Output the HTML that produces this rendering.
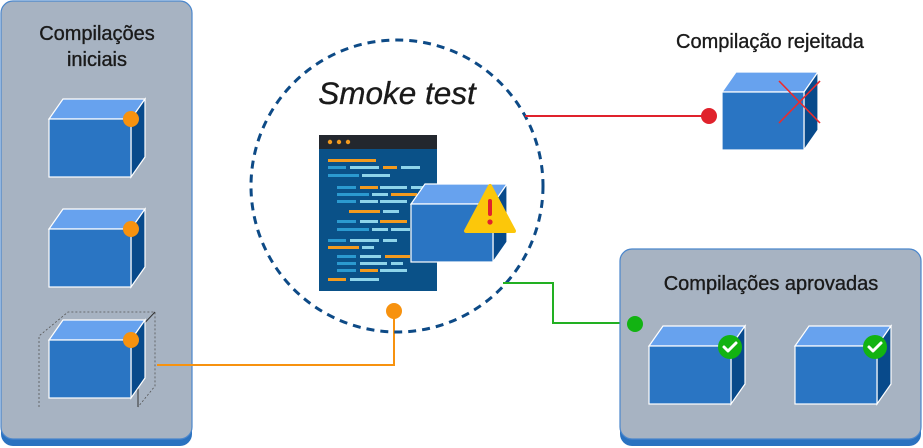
<!DOCTYPE html>
<html><head><meta charset="utf-8"><style>
html,body{margin:0;padding:0;background:#fff;}
svg{display:block;font-family:"Liberation Sans",Roboto,sans-serif;}
.t{fill:#1a1a1a;stroke:#1a1a1a;stroke-width:0.35;}
</style></head><body>
<svg width="923" height="448" viewBox="0 0 923 448" xmlns="http://www.w3.org/2000/svg">
<defs>
<g id="cube">
  <polygon points="0,0 14,-20 96,-20 82,0" fill="#67a2ee" stroke="#fff" stroke-width="1.2"/>
  <polygon points="82,0 96,-20 96,38 82,58" fill="#084a8b" stroke="#fff" stroke-width="1.2"/>
  <rect x="0" y="0" width="82" height="58" fill="#2a75c3" stroke="#fff" stroke-width="1.2"/>
</g>
</defs>
<!-- left panel -->
<rect x="1" y="8" width="191" height="438" rx="12" fill="#2a72c0"/>
<rect x="1" y="1" width="191" height="438" rx="12" fill="#a7b3c2" stroke="#4a86cc" stroke-width="1.2"/>
<text class="t" x="97" y="40" font-size="20" text-anchor="middle">Compilações</text>
<text class="t" x="97" y="66" font-size="20" text-anchor="middle">iniciais</text>
<use href="#cube" x="49" y="119"/>
<circle cx="131" cy="119" r="8" fill="#f7920f"/>
<use href="#cube" x="49" y="229"/>
<circle cx="131" cy="229" r="8" fill="#f7920f"/>
<!-- ghost outline -->
<g stroke="#555" stroke-width="0.8" stroke-dasharray="2,2" fill="none">
<polyline points="39,407 39,336 68,312 155,312 155,386 138,407"/>
</g>
<line x1="138" y1="330" x2="138" y2="407" stroke="#333" stroke-width="1"/>
<line x1="138" y1="330" x2="155" y2="312" stroke="#333" stroke-width="1"/>
<use href="#cube" x="49" y="340"/>
<circle cx="131" cy="340" r="8" fill="#f7920f"/>
<!-- orange connector -->
<polyline points="157,365 394,365 394,311" fill="none" stroke="#f7920f" stroke-width="2"/>
<circle cx="394" cy="311" r="8" fill="#f7920f"/>
<!-- dashed circle -->
<circle cx="397" cy="186" r="146" fill="none" stroke="#0d4a86" stroke-width="3" stroke-dasharray="8,6"/>
<text class="t" x="397" y="104" font-size="31.5" font-style="italic" text-anchor="middle">Smoke test</text>
<!-- red connector -->
<line x1="525" y1="116" x2="709" y2="116" stroke="#e0222c" stroke-width="2"/>
<!-- green connector -->
<polyline points="503,283 553,283 553,323 635,323" fill="none" stroke="#22b022" stroke-width="2"/>
<!-- code window -->
<rect x="319" y="135" width="118" height="156" fill="#0a5188"/>
<rect x="319" y="135" width="118" height="14" fill="#23272e"/>
<circle cx="330" cy="142" r="2.2" fill="#f39a1e"/><circle cx="339" cy="142" r="2.2" fill="#f39a1e"/><circle cx="348" cy="142" r="2.2" fill="#f39a1e"/>
<g>
<rect x="328" y="159" width="48" height="3" fill="#f39a1e"/>
<rect x="328" y="166" width="18" height="3" fill="#2b9ad0"/><rect x="350" y="166" width="29" height="3" fill="#8ed4ea"/><rect x="383" y="166" width="14" height="3" fill="#f39a1e"/><rect x="401" y="166" width="19" height="3" fill="#8ed4ea"/>
<rect x="328" y="174" width="31" height="3" fill="#2b9ad0"/><rect x="362" y="174" width="28" height="3" fill="#8ed4ea"/>
<rect x="337" y="186" width="19" height="3" fill="#2b9ad0"/><rect x="360" y="186" width="18" height="3" fill="#f39a1e"/><rect x="380" y="186" width="27" height="3" fill="#8ed4ea"/><rect x="411" y="186" width="18" height="3" fill="#8ed4ea"/>
<rect x="337" y="193" width="32" height="3" fill="#2b9ad0"/><rect x="372" y="193" width="16" height="3" fill="#8ed4ea"/><rect x="391" y="193" width="26" height="3" fill="#f39a1e"/>
<rect x="337" y="200" width="19" height="3" fill="#2b9ad0"/><rect x="360" y="200" width="18" height="3" fill="#8ed4ea"/><rect x="380" y="200" width="27" height="3" fill="#8ed4ea"/>
<rect x="349" y="210" width="31" height="3" fill="#f39a1e"/><rect x="383" y="210" width="16" height="3" fill="#8ed4ea"/>
<rect x="337" y="220" width="19" height="3" fill="#2b9ad0"/><rect x="360" y="220" width="18" height="3" fill="#8ed4ea"/><rect x="380" y="220" width="27" height="3" fill="#f39a1e"/>
<rect x="337" y="228" width="32" height="3" fill="#2b9ad0"/><rect x="372" y="228" width="16" height="3" fill="#8ed4ea"/><rect x="391" y="228" width="19" height="3" fill="#8ed4ea"/>
<rect x="328" y="239" width="18" height="3" fill="#2b9ad0"/><rect x="350" y="239" width="29" height="3" fill="#8ed4ea"/><rect x="383" y="239" width="14" height="3" fill="#8ed4ea"/>
<rect x="328" y="246" width="31" height="3" fill="#f39a1e"/><rect x="362" y="246" width="12" height="3" fill="#8ed4ea"/>
<rect x="337" y="255" width="19" height="3" fill="#2b9ad0"/><rect x="360" y="255" width="21" height="3" fill="#8ed4ea"/><rect x="385" y="255" width="25" height="3" fill="#f39a1e"/>
<rect x="337" y="262" width="19" height="3" fill="#2b9ad0"/><rect x="360" y="262" width="27" height="3" fill="#8ed4ea"/><rect x="391" y="262" width="12" height="3" fill="#8ed4ea"/>
<rect x="337" y="269" width="19" height="3" fill="#2b9ad0"/><rect x="360" y="269" width="18" height="3" fill="#f39a1e"/><rect x="380" y="269" width="27" height="3" fill="#8ed4ea"/>
<rect x="328" y="278" width="18" height="3" fill="#f39a1e"/><rect x="350" y="278" width="29" height="3" fill="#8ed4ea"/>
</g>
<use href="#cube" x="411" y="204"/>
<polygon points="490,186 466,231 514,231" fill="#fcc70a" stroke="#fcc70a" stroke-width="4" stroke-linejoin="round"/>
<rect x="488" y="199" width="4" height="17" rx="2" fill="#e0222c"/>
<circle cx="490" cy="222" r="2.6" fill="#e0222c"/>
<!-- rejected -->
<text class="t" x="770" y="48" font-size="20" text-anchor="middle">Compilação rejeitada</text>
<use href="#cube" x="722" y="92"/>
<circle cx="709" cy="116" r="8" fill="#e0222c"/>
<line x1="779" y1="81" x2="820" y2="123" stroke="#ee2a2a" stroke-width="1.6"/>
<line x1="820" y1="81" x2="779" y2="123" stroke="#ee2a2a" stroke-width="1.6"/>
<!-- approved panel -->
<rect x="620" y="256" width="301" height="190" rx="12" fill="#2a72c0"/>
<rect x="620" y="249" width="301" height="190" rx="12" fill="#a7b3c2" stroke="#4a86cc" stroke-width="1.2"/>
<text class="t" x="771" y="290" font-size="20" text-anchor="middle">Compilações aprovadas</text>
<circle cx="635" cy="324" r="8" fill="#12b312"/>
<use href="#cube" x="649" y="346"/>
<use href="#cube" x="795" y="346"/>
<circle cx="730" cy="347" r="12" fill="#12b312"/>
<polyline points="724,347 728,351 736,343" fill="none" stroke="#fff" stroke-width="3" stroke-linecap="round" stroke-linejoin="round"/>
<circle cx="875" cy="347" r="12" fill="#12b312"/>
<polyline points="869,347 873,351 881,343" fill="none" stroke="#fff" stroke-width="3" stroke-linecap="round" stroke-linejoin="round"/>
</svg>
</body></html>
